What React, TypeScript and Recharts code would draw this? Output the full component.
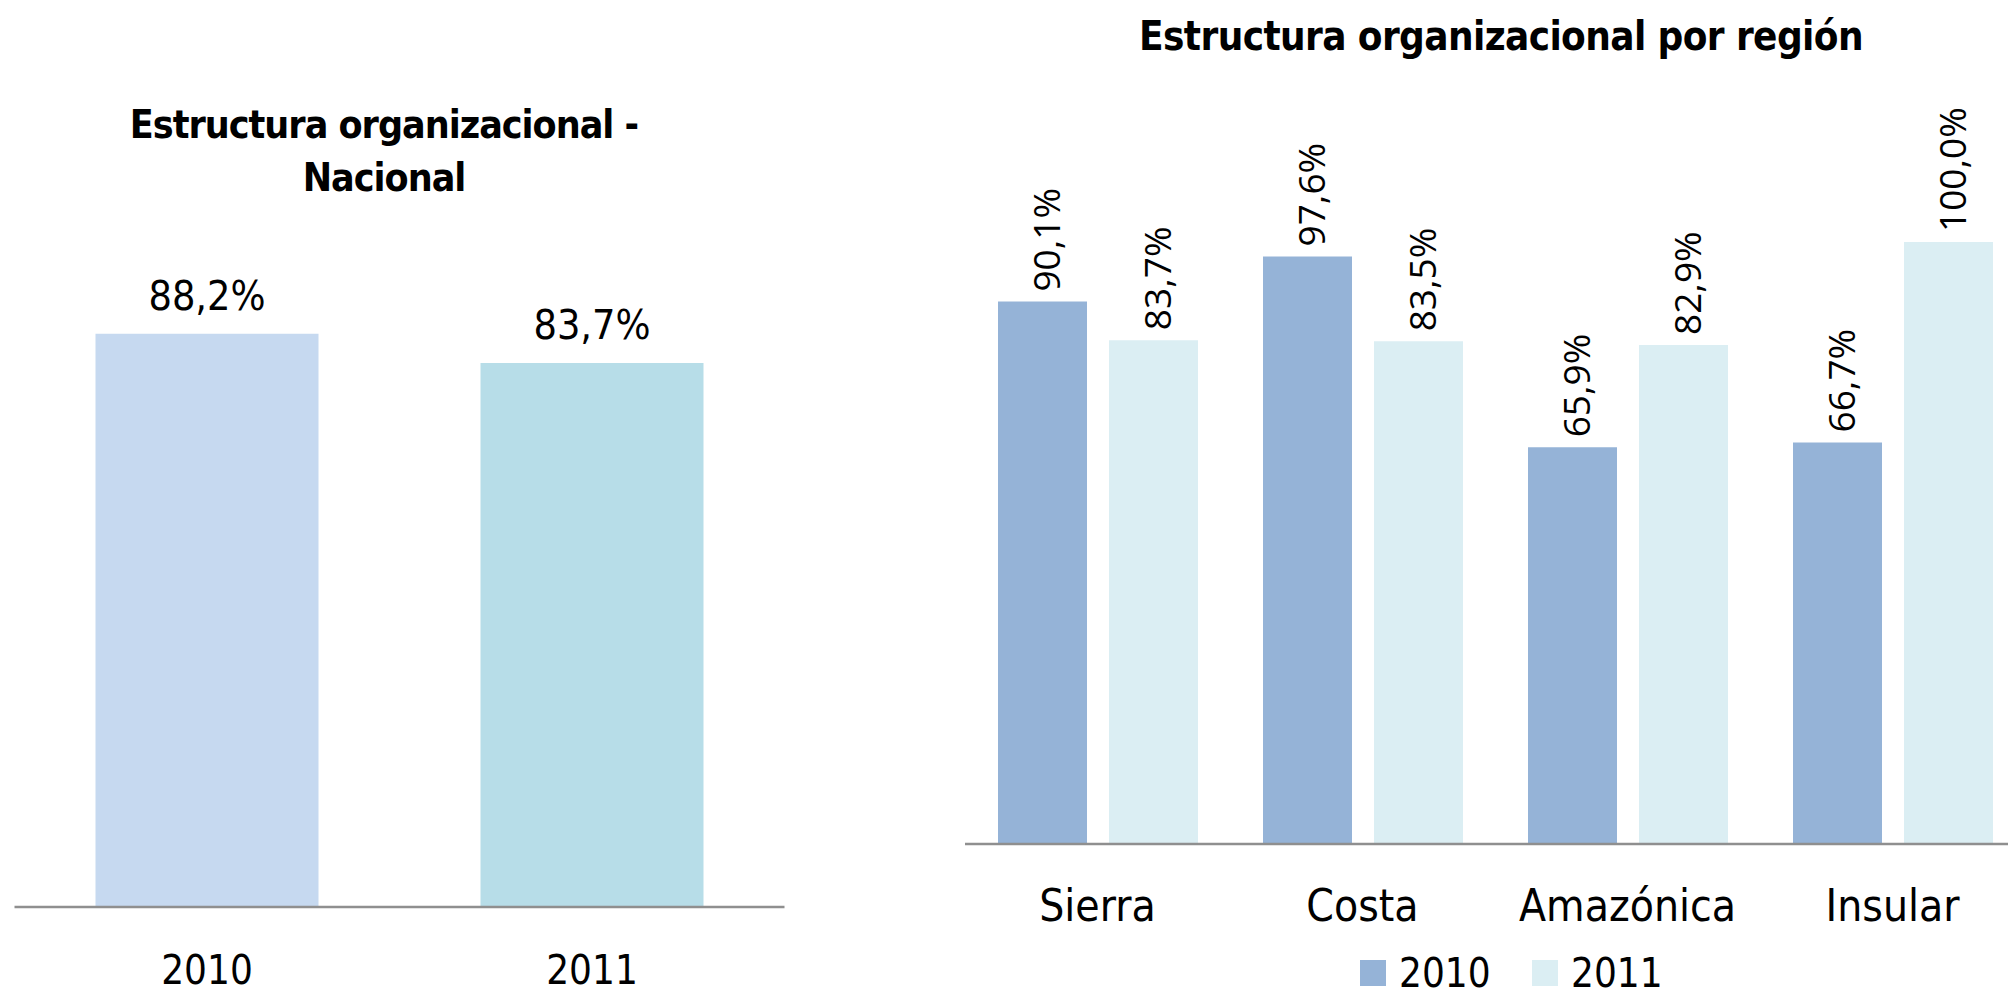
import React from "react";
import { BarChart, Bar, XAxis, YAxis, Cell, LabelList } from "recharts";

// national chart
const nationalYears = ["2010", "2011"];
const nationalValues = [88.2, 83.7];
const nationalColors = ["#C6D9F0", "#B7DDE8"];

// regional chart
const regions = ["Sierra", "Costa", "Amazónica", "Insular"];
const values2010 = [90.1, 97.6, 65.9, 66.7];
const values2011 = [83.7, 83.5, 82.9, 100.0];
const seriesNames = ["2010", "2011"];
const seriesColors = ["#95B3D7", "#DBEEF3"];

const CAL = '"Liberation Sans Narrow", "DejaVu Sans Condensed", "Open Sans", sans-serif';
const ROUND = '"Open Sans", "DejaVu Sans", sans-serif';
const AXIS = "#8f8f8f";

const fmt = (v: number) => v.toFixed(1).replace(".", ",") + "%";

const nationalData = nationalYears.map((y, i) => ({ year: y, value: nationalValues[i] }));
const regionData = regions.map((r, i) => ({ region: r, v2010: values2010[i], v2011: values2011[i] }));

const makeTick = (dy: number, size: number) => (props: any) => {
  const { x, y, payload } = props;
  return (
    <text x={x} y={y} dy={dy} textAnchor="middle" dominantBaseline="central"
      style={{ fontFamily: CAL, fontSize: size, fill: "#000" }}>
      {payload.value}
    </text>
  );
};

// rotated value labels above the regional bars
const RotLabel = (props: any) => {
  const { x, y, width, value } = props;
  const cx = x + width / 2 + 3;
  const cy = y - 10;
  return (
    <text x={cx} y={cy} transform={`rotate(-90 ${cx} ${cy})`} textAnchor="start"
      dominantBaseline="central" style={{ fontFamily: ROUND, fontSize: 37, fill: "#000" }}>
      {fmt(value)}
    </text>
  );
};

const titleStyle: React.CSSProperties = {
  position: "absolute",
  fontFamily: CAL,
  fontWeight: 700,
  color: "#000",
  whiteSpace: "nowrap",
  transform: "translate(-50%, -50%)",
  lineHeight: 1,
};

export default function App() {
  return (
    <div style={{ position: "fixed", left: 0, top: 0, width: 2008, height: 991, overflow: "hidden", background: "#fff" }}>
      {/* ── left: national ── */}
      <div style={{ ...titleStyle, fontSize: 39, letterSpacing: -1, left: 384, top: 124 }}>Estructura organizacional -</div>
      <div style={{ ...titleStyle, fontSize: 39, letterSpacing: -1, left: 384, top: 177 }}>Nacional</div>
      <div style={{ position: "absolute", left: 0, top: 0 }}>
        <BarChart width={800} height={991} data={nationalData}
          margin={{ top: 257, right: 15.5, left: 14.5, bottom: 24 }} barCategoryGap={81}>
          <XAxis dataKey="year" height={60} tickLine={false} axisLine={{ stroke: AXIS, strokeWidth: 2.5 }}
            tick={makeTick(55, 40)} interval={0} />
          <YAxis hide domain={[0, 100]} />
          <Bar dataKey="value" isAnimationActive={false}>
            {nationalData.map((d, i) => (
              <Cell key={d.year} fill={nationalColors[i]} />
            ))}
            <LabelList dataKey="value" position="top" offset={24} formatter={(v: any) => fmt(v)}
              style={{ fontFamily: CAL, fontSize: 41, fill: "#000" }} />
          </Bar>
        </BarChart>
      </div>

      {/* ── right: by region ── */}
      <div style={{ ...titleStyle, fontSize: 40, letterSpacing: -0.6, left: 1501, top: 36 }}>Estructura organizacional por región</div>
      <div style={{ position: "absolute", left: 900, top: 0 }}>
        <BarChart width={1200} height={991} data={regionData}
          margin={{ top: 242, right: 75, left: 65, bottom: 87 }} barCategoryGap={33} barGap={22}>
          <XAxis dataKey="region" height={60} tickLine={false} axisLine={{ stroke: AXIS, strokeWidth: 2.5 }}
            tick={makeTick(53, 44)} interval={0} />
          <YAxis hide domain={[0, 100]} />
          <Bar dataKey="v2010" name={seriesNames[0]} fill={seriesColors[0]} isAnimationActive={false}>
            <LabelList dataKey="v2010" content={RotLabel} />
          </Bar>
          <Bar dataKey="v2011" name={seriesNames[1]} fill={seriesColors[1]} isAnimationActive={false}>
            <LabelList dataKey="v2011" content={RotLabel} />
          </Bar>
        </BarChart>
      </div>

      {/* ── legend ── */}
      {seriesNames.map((n, i) => (
        <div key={n} style={{ position: "absolute", left: 1360 + i * 172, top: 973, transform: "translateY(-50%)",
          display: "flex", alignItems: "center", fontFamily: CAL, fontSize: 40, lineHeight: 1 }}>
          <span style={{ width: 26, height: 26, background: seriesColors[i], display: "inline-block", marginRight: 13 }} />
          <span>{n}</span>
        </div>
      ))}
    </div>
  );
}
